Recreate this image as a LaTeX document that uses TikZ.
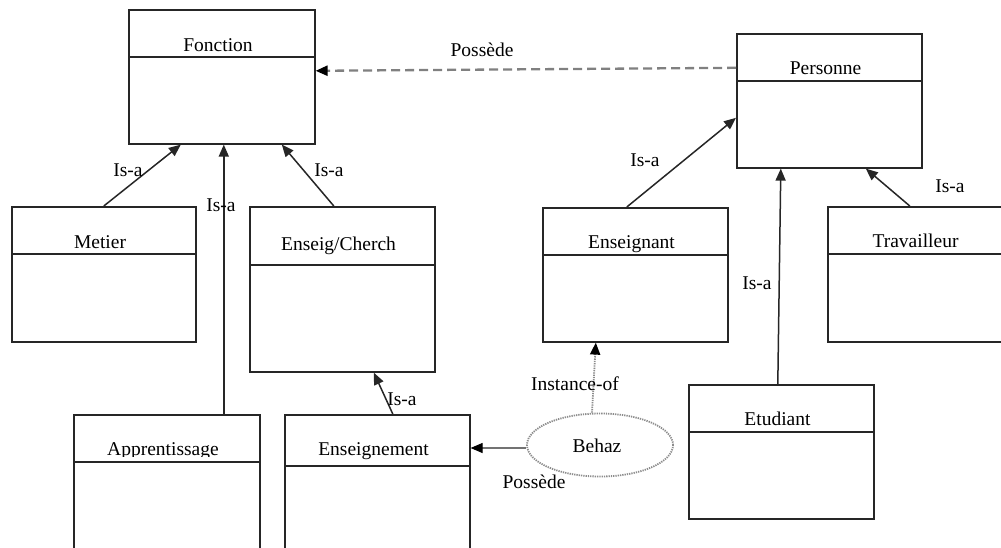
\documentclass[tikz,border=0pt]{standalone}
\usepackage{fontspec}
\setmainfont{Liberation Serif}
\usetikzlibrary{shapes.geometric,arrows.meta}

% #1 name, #2 left, #3 top, #4 right, #5 bottom, #6 divider, #7 title baseline, #8 title
\newcommand\umlclass[8]{%
  \node[classbox, minimum width={#4-#2}, minimum height={#5-#3}] (#1) at (#2,#3) {};
  \draw[divider] (#1.west |- 0,#6) -- (#1.east |- 0,#6);
  \node[title] (#1-title) at ({(#2+#4)/2-3},#7) {#8};
}

\begin{document}
\begin{tikzpicture}[x=1pt,y=-1pt,
  classbox/.style={draw=black!85, line width=1.6pt, rectangle, inner sep=0pt, anchor=north west},
  divider/.style={draw=black!85, line width=1.6pt},
  title/.style={font=\fontsize{19.5}{22}\selectfont, anchor=base, inner sep=0pt},
  lbl/.style={font=\fontsize{19.5}{22}\selectfont, inner sep=0pt},
  tip/.style={-{Triangle[length=12pt,width=10pt]}},
  blacktip/.style={-{Triangle[length=12pt,width=10pt,color=black,fill=black]}},
  isa/.style={draw=black!85, line width=1.5pt, tip},
  owns/.style={draw=black!50, line width=2.3pt, dash pattern=on 9pt off 5pt, blacktip},
  link/.style={draw=black!55, line width=1.1pt, blacktip},
  inst/.style={draw=black!45, line width=1.8pt, dash pattern=on 1.3pt off 1pt, blacktip},
  obj/.style={ellipse, draw=black!45, line width=1.8pt, dash pattern=on 1.3pt off 1pt,
              minimum width=146pt, minimum height=63pt, inner sep=0pt}
]
\useasboundingbox (0,0) rectangle (1001,547);
\clip (0,0) rectangle (1001,547);

% classes
\umlclass{fonction}{128}{9}{314}{143}{57}{51}{Fonction}
\umlclass{personne}{736}{33}{921}{167}{81}{74}{Personne}
\umlclass{metier}{11}{206}{195}{341}{254}{248}{Metier}
\umlclass{enseigcherch}{249}{206}{434}{371}{265}{250}{Enseig/Cherch}
\umlclass{enseignant}{542}{207}{727}{341}{255}{248}{Enseignant}
\umlclass{travailleur}{827}{206}{1010}{341}{254}{247}{Travailleur}
\umlclass{enseignement}{284}{414}{469}{570}{466}{455}{Enseignement}
\umlclass{etudiant}{688}{384}{873}{518}{432}{425}{Etudiant}

% Apprentissage: title cut off at its baseline
\node[classbox, minimum width=186pt, minimum height=156pt] (apprentissage) at (73,414) {};
\draw[divider] (apprentissage.west |- 0,462) -- (apprentissage.east |- 0,462);
\begin{scope}
  \clip (73,414) rectangle (259,456.5);
  \node[title] (apprentissage-title) at (163,455) {Apprentissage};
\end{scope}

% object
\node[obj] (behaz) at (600,445) {};
\node[lbl] (behaz-name) at (597,446) {Behaz};

% generalisation links
\draw[isa] (metier.north) -- ([xshift=-41pt]fonction.south);
\draw[isa] ([xshift=57pt]apprentissage.north) -- ([xshift=2pt]fonction.south);
\draw[isa] ([xshift=-8.5pt]enseigcherch.north) -- ([xshift=60pt]fonction.south);
\draw[isa] ([xshift=15.5pt]enseignement.north) -- ([xshift=31.5pt]enseigcherch.south);
\draw[isa] ([xshift=-8.5pt]enseignant.north) -- ([yshift=-17pt]personne.west);
\draw[isa] ([xshift=-3.5pt]etudiant.north) -- ([xshift=-48.5pt]personne.south);
\draw[isa] ([xshift=-9.5pt]travailleur.north) -- ([xshift=36.5pt]personne.south);

% association and instance links
\draw[owns] ([yshift=33pt]personne.west) -- ([yshift=6pt]fonction.east);
\draw[link] ([yshift=-3pt]behaz.west) -- ([yshift=-3pt]behaz.west -| enseignement.east);
\draw[inst] ([xshift=-8pt]behaz.north) -- ([xshift=-39.5pt]enseignant.south);

% link labels
\node[lbl] (l-possede-top) at (482,50) {Possède};
\node[lbl] (l-isa-metier) at (128,170) {Is-a};
\node[lbl] (l-isa-appr) at (221,205) {Is-a};
\node[lbl] (l-isa-ec) at (329,170) {Is-a};
\node[lbl] (l-isa-ens) at (402,399) {Is-a};
\node[lbl] (l-isa-enseignant) at (645,160) {Is-a};
\node[lbl] (l-isa-etudiant) at (757,283) {Is-a};
\node[lbl] (l-isa-trav) at (950,186) {Is-a};
\node[lbl] (l-instance) at (575,384) {Instance-of};
\node[lbl] (l-possede-bot) at (534,482) {Possède};
\end{tikzpicture}
\end{document}
